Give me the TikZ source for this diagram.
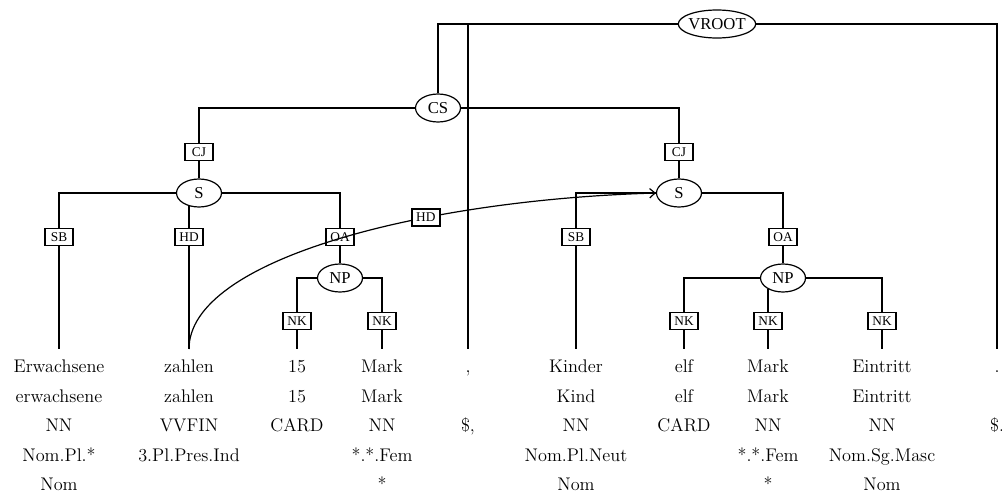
\documentclass[tikz,border=0pt]{standalone}
\usepackage{fontspec}
\usetikzlibrary{arrows.meta, shapes.geometric}
\newfontfamily\labelfont{Liberation Serif}
\tikzset{
  cat/.style={draw, ellipse, line width=0.9pt, inner sep=0pt, minimum width=33.75pt,
    minimum height=21pt, font=\labelfont\fontsize{12.5}{12.5}\selectfont},
  edgelabel/.style={draw, rectangle, line width=1.2pt, fill=white, inner sep=1.5pt,
    minimum width=21pt, minimum height=12.75pt, font=\labelfont\fontsize{10}{10}\selectfont},
  word/.style={anchor=north, align=center, inner xsep=2pt, inner ysep=8pt,
    font=\fontsize{13.7}{22.1}\selectfont},
  branch/.style={line width=1.2pt},
  secedge/.style={line width=0.9pt, -{Straight Barb[length=4pt, width=7pt]}},
}
\begin{document}
\begin{tikzpicture}[x=0.75pt, y=-0.75pt]
\useasboundingbox (0,0) rectangle (1002,493);

% Terminal columns: word, lemma, tag, morphology, case
\foreach \n/\x/\t in {w1/59/{Erwachsene\\erwachsene\\NN\\Nom.Pl.*\\Nom},
    w2/189/{zahlen\\zahlen\\VVFIN\\3.Pl.Pres.Ind},
    w3/297/{15\\15\\CARD},
    w4/382/{Mark\\Mark\\NN\\*.*.Fem\\*},
    w5/468/{{,}\\\mbox{}\\\$,},
    w6/576/{Kinder\\Kind\\NN\\Nom.Pl.Neut\\Nom},
    w7/684/{elf\\elf\\CARD},
    w8/768/{Mark\\Mark\\NN\\*.*.Fem\\*},
    w9/882/{Eintritt\\Eintritt\\NN\\Nom.Sg.Masc\\Nom},
    w10/997/{.\\\mbox{}\\\$.}} {
  \node[word] (\n) at (\x,349) {\vphantom{Eh}\t};
}

% Phrase nodes
\node[cat, inner xsep=-1pt] (vroot) at (717,24) {VROOT};
\node[cat] (cs) at (438,108) {CS};
\node[cat] (sA) at (199,193) {S};
\node[cat] (sB) at (679,193) {S};
\node[cat] (npA) at (340,278) {NP};
\node[cat] (npB) at (783,278) {NP};

% Edge labels
\foreach \n/\x/\y/\t in {cjA/199/152/CJ, cjB/679/152/CJ,
    sbA/59/237/SB, hdA/189/237/HD, oaA/340/237/OA,
    sbB/576/237/SB, oaB/783/237/OA,
    nkA/297/321/NK, nkB/382/321/NK,
    nkC/684/321/NK, nkD/768/321/NK, nkE/882/321/NK} {
  \node[edgelabel] (\n) at (\x,\y) {\t};
}

% Tree branches
\draw[branch] (vroot.west) -| (cs.north);
\draw[branch] (vroot.west) -| (w5.north);
\draw[branch] (vroot.east) -| (w10.north);
\draw[branch] (cs.west) -| (cjA.north);
\draw[branch] (cs.east) -| (cjB.north);
\draw[branch] (cjA) -- (sA);
\draw[branch] (cjB) -- (sB);
\draw[branch] (sA.west) -| (sbA.north);
\draw[branch] (hdA.north |- sA.232) -- (hdA.north);
\draw[branch] (sA.east) -| (oaA.north);
\draw[branch] (sB.west) -| (sbB.north);
\draw[branch] (sB.east) -| (oaB.north);
\draw[branch] (oaA) -- (npA);
\draw[branch] (oaB) -- (npB);
\draw[branch] (npA.west) -| (nkA.north);
\draw[branch] (npA.east) -| (nkB.north);
\draw[branch] (npB.west) -| (nkC.north);
\draw[branch] (nkD.north |- npB.215) -- (nkD.north);
\draw[branch] (npB.east) -| (nkE.north);

% Leaves
\foreach \a/\b in {sbA/w1, hdA/w2, nkA/w3, nkB/w4, sbB/w6, nkC/w7, nkD/w8, nkE/w9} {
  \draw[branch] (\a.south) -- (\b.north);
}

% Secondary edge
\draw[secedge] (w2.north) .. controls (189,260) and (420,200) .. (sB.west)
  node[edgelabel, pos=0.66] (hdB) {HD};
\end{tikzpicture}
\end{document}
